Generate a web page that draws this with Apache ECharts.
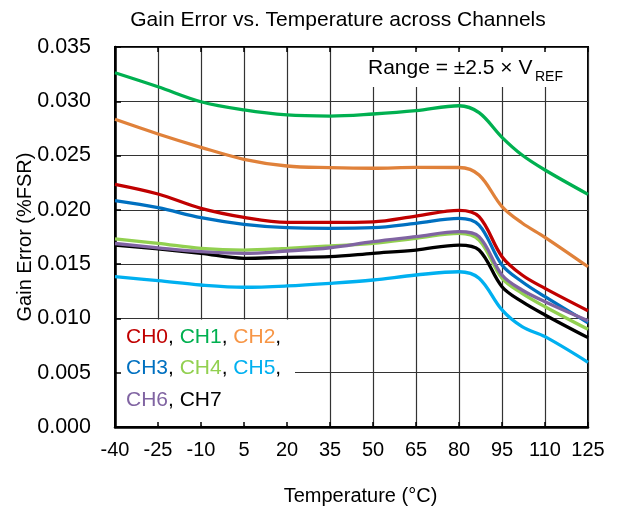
<!doctype html>
<html>
    <head>
        <meta charset="utf-8">
        <title>Gain Error vs. Temperature</title>
        <style>
            html, body { margin: 0; padding: 0; background: #fff; }
            #main { width: 620px; height: 514px; }
        </style>
    </head>
    <body>
        <div id="main"></div>
        <script src="https://cdn.jsdelivr.net/npm/echarts@6/dist/echarts.min.js"></script>
        <script>
            var temps = [-40, -25, -10, 5, 20, 35, 50, 65, 80, 87, 95, 102, 110, 125];

            var ch0 = [0.02235, 0.02146, 0.02014, 0.01931, 0.01885, 0.01885, 0.0189, 0.01943, 0.01996, 0.01937, 0.01569, 0.0140, 0.01277, 0.01071];
            var ch1 = [0.03263, 0.03134, 0.02996, 0.0292, 0.02874, 0.02864, 0.02883, 0.02913, 0.02959, 0.02895, 0.02668, 0.02505, 0.02367, 0.02143];
            var ch2 = [0.02834, 0.02699, 0.02576, 0.02466, 0.02404, 0.02389, 0.02383, 0.02392, 0.0239, 0.02321, 0.0203, 0.01879, 0.01747, 0.01476];
            var ch3 = [0.02085, 0.0202, 0.01928, 0.01867, 0.01836, 0.0183, 0.01836, 0.01876, 0.01922, 0.0186, 0.01492, 0.01338, 0.012, 0.0096];
            var ch4 = [0.01732, 0.01692, 0.01646, 0.0163, 0.01646, 0.01667, 0.01692, 0.01738, 0.01784, 0.01722, 0.0137, 0.01231, 0.01108, 0.009];
            var ch5 = [0.01385, 0.01348, 0.01308, 0.01287, 0.01299, 0.01323, 0.01354, 0.014, 0.0143, 0.0137, 0.01078, 0.00924, 0.00832, 0.00596];
            var ch6 = [0.0169, 0.0165, 0.01615, 0.016, 0.01621, 0.01651, 0.01707, 0.01753, 0.01799, 0.01753, 0.014, 0.01262, 0.01154, 0.00979];
            var ch7 = [0.01676, 0.0164, 0.016, 0.01554, 0.01563, 0.01569, 0.016, 0.0163, 0.01676, 0.0163, 0.01292, 0.01154, 0.01032, 0.00823];

            var names = ['CH0', 'CH1', 'CH2', 'CH3', 'CH4', 'CH5', 'CH6', 'CH7'];
            var lineColors = ['#C00000', '#00B050', '#E0813A', '#0070C0', '#92D050', '#00B0F0', '#8064A2', '#000000'];
            var textColors = ['#C00000', '#00B050', '#F79646', '#0070C0', '#92D050', '#00B0F0', '#8064A2', '#000000'];
            var values = [ch0, ch1, ch2, ch3, ch4, ch5, ch6, ch7];
            // drawing order, last on top
            var order = [1, 2, 5, 7, 4, 3, 6, 0];

            var font = '"Liberation Sans", Arial, sans-serif';
            var chart = echarts.init(document.getElementById('main'));

            function pairs(ys) {
                return ys.map(function (y, i) { return [temps[i], y]; });
            }

            var series = order.map(function (k) {
                return {
                    name: names[k],
                    type: 'line',
                    data: pairs(values[k]),
                    smooth: 0.35,
                    symbol: 'none',
                    xAxisIndex: 0,
                    yAxisIndex: 0,
                    z: 5,
                    lineStyle: { color: lineColors[k], width: 3.3 }
                };
            });

            // rich text for the in-plot legend (graphic text uses fill)
            var rich = {};
            names.forEach(function (n, i) {
                rich['c' + i] = { fill: textColors[i], fontSize: 21, fontFamily: font };
            });
            rich.p = { fill: '#000', fontSize: 21, fontFamily: font };

            function legendRow(ids) {
                return ids.map(function (i) {
                    return '{c' + i + '|' + names[i] + '}{p|,}';
                }).join('{p| }');
            }
            var row3 = '{c6|CH6}{p|, }{c7|CH7}';

            var tickStyle = { color: '#000', width: 1.5 };

            chart.setOption({
                animation: false,
                title: {
                    text: 'Gain Error vs. Temperature across Channels',
                    left: 333,
                    textAlign: 'center',
                    top: 5,
                    textStyle: { fontFamily: font, fontSize: 21, fontWeight: 'normal', color: '#000' }
                },
                grid: {
                    left: 115, right: 32, top: 47, bottom: 87,
                    show: true, borderColor: '#000', borderWidth: 2, backgroundColor: 'transparent'
                },
                xAxis: [{
                    type: 'value', min: -40, max: 125, interval: 15,
                    name: 'Temperature (°C)',
                    nameLocation: 'middle',
                    nameGap: 59,
                    nameMoveOverlap: false,
                    nameTextStyle: { fontFamily: font, fontSize: 20, color: '#000', padding: [0, 0, 0, 18] },
                    axisLine: { show: true, onZero: false, lineStyle: { color: '#000', width: 2.5 } },
                    axisTick: { show: false },
                    axisLabel: { fontFamily: font, fontSize: 20, color: '#000', margin: 13 },
                    splitLine: { show: true, lineStyle: { color: '#333', width: 1.2 } }
                }, {
                    type: 'value', min: -40, max: 125, interval: 15, position: 'bottom',
                    axisLine: { show: false, onZero: false },
                    axisLabel: { show: false },
                    splitLine: { show: false },
                    axisTick: { show: true, inside: true, length: 5, lineStyle: tickStyle },
                    z: 4
                }, {
                    type: 'value', min: -40, max: 125, interval: 15, position: 'top',
                    axisLine: { show: false, onZero: false },
                    axisLabel: { show: false },
                    splitLine: { show: false },
                    axisTick: { show: true, inside: true, length: 5, lineStyle: tickStyle },
                    z: 4
                }],
                yAxis: [{
                    type: 'value', min: 0, max: 0.035, interval: 0.005,
                    name: 'Gain Error (%FSR)',
                    nameLocation: 'middle',
                    nameGap: 80,
                    nameMoveOverlap: false,
                    nameRotate: 90,
                    nameTextStyle: { fontFamily: font, fontSize: 20, color: '#000' },
                    axisLine: { show: true, onZero: false, lineStyle: { color: '#000', width: 2.5 } },
                    axisTick: { show: false },
                    axisLabel: {
                        fontFamily: font, fontSize: 21.5, color: '#000', margin: 24,
                        formatter: function (v) { return v.toFixed(3); }
                    },
                    splitLine: { show: true, lineStyle: { color: '#333', width: 1.2 } }
                }, {
                    type: 'value', min: 0, max: 0.035, interval: 0.005, position: 'left',
                    axisLine: { show: false, onZero: false },
                    axisLabel: { show: false },
                    splitLine: { show: false },
                    axisTick: { show: true, inside: true, length: 6, lineStyle: tickStyle },
                    z: 4
                }],
                graphic: [
                    // white boxes behind the annotations, above the grid lines
                    { type: 'rect', z: 1, silent: true, shape: { x: 117, y: 319.5, width: 178, height: 106 }, style: { fill: '#fff' } },
                    { type: 'rect', z: 1, silent: true, shape: { x: 355, y: 49, width: 232, height: 38 }, style: { fill: '#fff' } },
                    {
                        type: 'text', z: 6, left: 368, top: 58,
                        style: { text: 'Range = ±2.5 × V', fontFamily: font, fontSize: 21, fill: '#000' }
                    },
                    {
                        type: 'text', z: 6, left: 535, top: 70,
                        style: { text: 'REF', fontFamily: font, fontSize: 14, fill: '#000' }
                    },
                    { type: 'text', z: 6, left: 126, top: 327, style: { text: legendRow([0, 1, 2]), rich: rich } },
                    { type: 'text', z: 6, left: 126, top: 358, style: { text: legendRow([3, 4, 5]), rich: rich } },
                    { type: 'text', z: 6, left: 126, top: 390, style: { text: row3, rich: rich } }
                ],
                series: series
            });

            window.addEventListener('resize', function () {
                chart.resize();
            });
        </script>
    </body>
</html>
